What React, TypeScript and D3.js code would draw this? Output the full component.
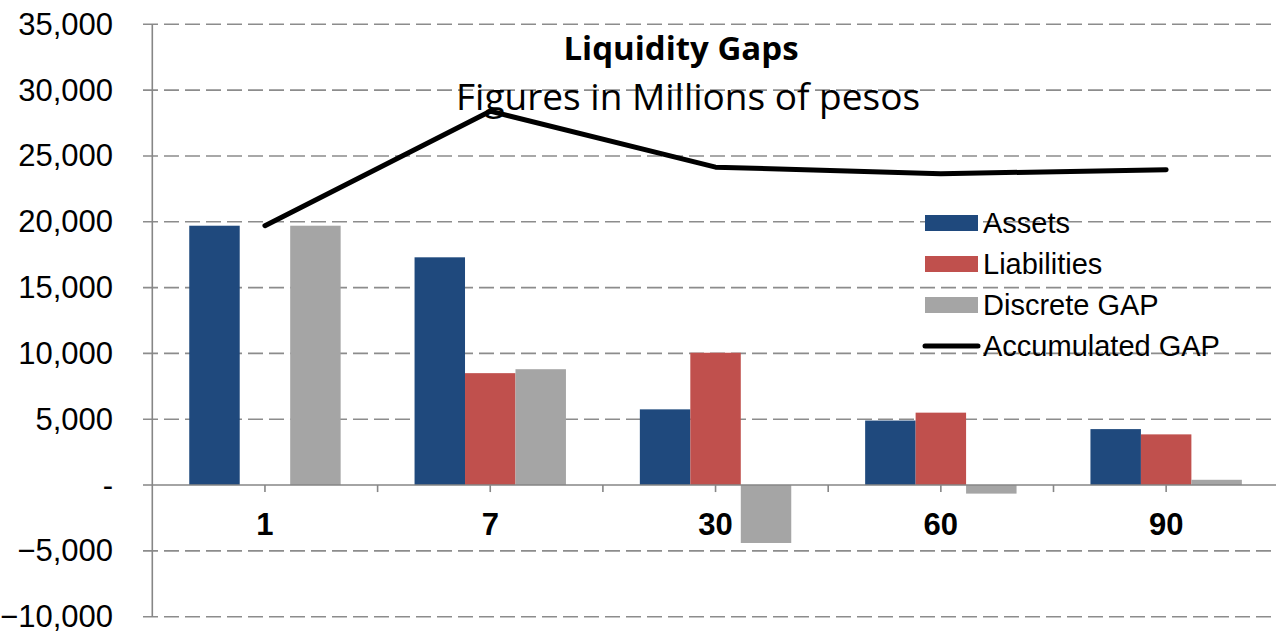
import React from "react";
import * as d3 from "d3";

const categories = ["1", "7", "30", "60", "90"];
const assets = [19700, 17300, 5750, 4900, 4250];
const liabilities = [0, 8500, 10050, 5500, 3850];
const discreteGap = [19700, 8800, -4400, -650, 400];
const accumulatedGap = [19700, 28400, 24150, 23650, 23950];
const yTicks = [-10000, -5000, 0, 5000, 10000, 15000, 20000, 25000, 30000, 35000];
const barSeries = [
  { name: "Assets", values: assets, color: "#1F497D" },
  { name: "Liabilities", values: liabilities, color: "#C0504D" },
  { name: "Discrete GAP", values: discreteGap, color: "#A5A5A5" },
];
const lineName = "Accumulated GAP";

const W = 1276;
const H = 631;
const left = 152.3;
const bandW = 225.3;
const top = 24.3;
const bottom = 616.7;

export default function App() {
  const x = d3
    .scaleBand<string>()
    .domain(categories)
    .range([left, left + bandW * categories.length])
    .paddingInner(0)
    .paddingOuter(0);
  const y = d3.scaleLinear().domain([-10000, 35000]).range([bottom, top]);
  const groupW = x.bandwidth() * 0.672;
  const x1 = d3
    .scaleBand<string>()
    .domain(barSeries.map((s) => s.name))
    .range([0, groupW]);
  const fmt = d3.format(",");
  const line = d3
    .line<number>()
    .x((_, i) => (x(categories[i]) as number) + x.bandwidth() / 2)
    .y((d) => y(d));
  const halfTicks: number[] = [];
  for (let i = 0; i <= categories.length * 2; i++) halfTicks.push(left + (i * bandW) / 2);

  const legendX = 925;
  const legendY0 = 223;
  const legendStep = 41;

  return (
    <svg
      width={W}
      height={H}
      style={{ position: "absolute", left: 0, top: 0, background: "#fff" }}
      fontFamily="'Liberation Sans', Arial, sans-serif"
    >
      <rect x={0} y={0} width={W} height={H} fill="#fff" />
      {/* gridlines */}
      {yTicks.map((t) =>
        t === 0 ? null : (
          <line
            key={"g" + t}
            x1={143}
            x2={W}
            y1={y(t)}
            y2={y(t)}
            stroke="#8C8C8C"
            strokeWidth={1.6}
            strokeDasharray="15 6"
          />
        )
      )}
      {/* y tick labels */}
      {yTicks.map((t) => (
        <text
          key={"yl" + t}
          x={113}
          y={y(t)}
          dy="0.34em"
          textAnchor="end"
          fontSize={31}
          fill="#000"
        >
          {t === 0 ? "-" : fmt(t)}
        </text>
      ))}
      {/* bars */}
      {barSeries.map((s) =>
        s.values.map((v, i) => {
          const bx = (x(categories[i]) as number) + (x.bandwidth() - groupW) / 2 + (x1(s.name) as number);
          const y0 = y(0);
          const yv = y(v);
          return (
            <rect
              key={s.name + i}
              x={bx}
              y={Math.min(y0, yv)}
              width={x1.bandwidth()}
              height={Math.abs(yv - y0)}
              fill={s.color}
            />
          );
        })
      )}
      {/* axes */}
      <line x1={left} x2={left} y1={top} y2={bottom} stroke="#868686" strokeWidth={1.6} />
      <line x1={143} x2={W} y1={y(0)} y2={y(0)} stroke="#868686" strokeWidth={1.6} />
      {halfTicks.map((tx, i) =>
        i === 0 ? null : (
          <line key={"t" + i} x1={tx} x2={tx} y1={y(0)} y2={y(0) + 7} stroke="#868686" strokeWidth={1.6} />
        )
      )}
      {/* x labels */}
      {categories.map((c) => (
        <text
          key={"xl" + c}
          x={(x(c) as number) + x.bandwidth() / 2}
          y={535}
          textAnchor="middle"
          fontSize={31}
          fontWeight="bold"
          fill="#000"
        >
          {c}
        </text>
      ))}
      {/* title */}
      <text x={681} y={60} textAnchor="middle" fontFamily="'Open Sans', sans-serif" fontWeight="bold" fontSize={33} fill="#000">
        Liquidity Gaps
      </text>
      <text x={688} y={110} textAnchor="middle" fontFamily="'Open Sans', sans-serif" fontSize={37} fill="#000">
        Figures in Millions of pesos
      </text>
      {/* accumulated line */}
      <path
        d={line(accumulatedGap) || ""}
        fill="none"
        stroke="#000"
        strokeWidth={5}
        strokeLinejoin="round"
        strokeLinecap="round"
      />
      {/* legend */}
      {barSeries.map((s, i) => (
        <g key={"lg" + s.name}>
          <rect x={legendX} y={legendY0 + i * legendStep - 8} width={53} height={16} fill={s.color} />
          <text x={legendX + 58} y={legendY0 + i * legendStep} dy="0.36em" fontSize={29} fill="#000">
            {s.name}
          </text>
        </g>
      ))}
      <line
        x1={legendX}
        x2={legendX + 53}
        y1={legendY0 + 3 * legendStep}
        y2={legendY0 + 3 * legendStep}
        stroke="#000"
        strokeWidth={5}
        strokeLinecap="round"
      />
      <text x={legendX + 58} y={legendY0 + 3 * legendStep} dy="0.36em" fontSize={29} fill="#000">
        {lineName}
      </text>
    </svg>
  );
}
